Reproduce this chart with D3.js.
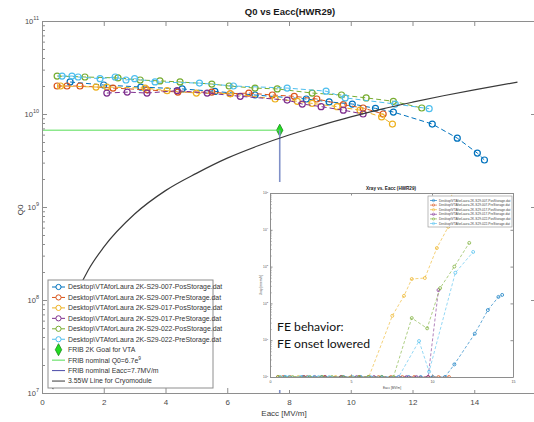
<!DOCTYPE html>
<html>
<head>
<meta charset="utf-8">
<script src="https://cdn.jsdelivr.net/npm/d3@7"></script>
<style>
  html, body { margin: 0; padding: 0; background: #fff; }
  svg { display: block; font-family: "Liberation Sans", Arial, sans-serif; }
</style>
</head>
<body>
<div id="graph"></div>
<script>
// ---- data ----
const seriesNames = [
  'Desktop\\VTAforLaura 2K-S29-007-PosStorage.dat',
  'Desktop\\VTAforLaura 2K-S29-007-PreStorage.dat',
  'Desktop\\VTAforLaura 2K-S29-017-PosStorage.dat',
  'Desktop\\VTAforLaura 2K-S29-017-PreStorage.dat',
  'Desktop\\VTAforLaura 2K-S29-022-PosStorage.dat',
  'Desktop\\VTAforLaura 2K-S29-022-PreStorage.dat'
];

// Eacc [MV/m], Q0, Xray [mrem/h] per run
const e007pos = [0.91, 2.0, 3.2, 4.54, 5.6, 6.9, 8.56, 9.3, 10.05, 10.8, 11.38, 12.64, 13.45, 14.1, 14.33];
const q007pos = [2.21e10, 2.05e10, 1.95e10, 1.86e10, 1.75e10, 1.6e10, 1.45e10, 1.35e10, 1.28e10, 1.15e10, 1.05e10, 7.8e9, 5.5e9, 3.8e9, 3.2e9];
const x007pos = [1, 1, 1, 1, 1, 1, 1, 1, 1, 1, 2.2, 15, 66, 150, 170];

const e007pre = [0.49, 0.81, 1.23, 2.3, 3.4, 4.4, 5.5, 6.1, 6.7, 7.46, 8.17, 8.9, 9.76, 10.4, 11.05];
const q007pre = [2.0e10, 2.0e10, 2.0e10, 1.9e10, 1.82e10, 1.72e10, 1.72e10, 1.65e10, 1.68e10, 1.6e10, 1.55e10, 1.45e10, 1.26e10, 1.16e10, 1.0e10];
const x007pre = [1, 1, 1, 1, 1, 1, 1, 1, 1, 1, 1, 1, 1, 1, 1];

const e017pos = [0.6, 1.75, 2.1, 3.34, 4.05, 5.0, 6.1, 7.55, 8.27, 8.75, 9.56, 10.3, 11.0, 11.35];
const q017pos = [2.0e10, 1.95e10, 1.95e10, 1.9e10, 1.78e10, 1.68e10, 1.65e10, 1.45e10, 1.37e10, 1.3e10, 1.2e10, 1.1e10, 9.3e9, 7.8e9];
const x017pos = [1, 1, 1, 1, 1, 1, 1, 46, 160, 460, 490, 3200, 1.2e4, 3e5];

const e017pre = [2.1, 2.76, 3.4, 4.38, 5.35, 6.42, 7.94, 8.43, 9.04, 9.76, 10.4];
const q017pre = [1.68e10, 1.72e10, 1.68e10, 1.78e10, 1.68e10, 1.55e10, 1.41e10, 1.28e10, 1.2e10, 1.1e10, 1.0e10];
const x017pre = [1, 1, 1, 1, 1, 1, 1, 1, 1, 1, 230];

const e022pos = [0.49, 1.39, 2.46, 3.18, 3.82, 4.47, 5.5, 6.06, 6.9, 7.62, 8.75, 9.7, 10.5, 11.38, 12.3];
const q022pos = [2.56e10, 2.5e10, 2.44e10, 2.32e10, 2.27e10, 2.21e10, 2.1e10, 2.0e10, 1.9e10, 1.86e10, 1.68e10, 1.6e10, 1.49e10, 1.37e10, 1.16e10];
const x022pos = [1, 1, 1, 1, 1, 1, 1, 1, 1, 1, 40, 21, 260, 1000, 4400];

const e022pre = [0.65, 0.97, 1.17, 1.88, 2.37, 2.72, 3.0, 3.66, 5.1, 6.2, 7.94, 9.2, 9.82, 11.44, 12.54];
const q022pre = [2.56e10, 2.56e10, 2.5e10, 2.4e10, 2.5e10, 2.32e10, 2.4e10, 2.21e10, 2.15e10, 2.0e10, 1.9e10, 1.76e10, 1.49e10, 1.28e10, 1.14e10];
const x022pre = [1, 1, 1, 1, 1, 1, 1, 1, 1, 1, 1, 9.5, 1.4, 680, 2500];

// 3.55W cryomodule line
const cryoE  = [0.35, 0.6, 1.0, 1.5, 2, 3, 4, 5, 6, 7, 8, 9, 10, 11, 12, 13, 14, 15.4];
const cryoQ0 = [1.1e7, 3.3e7, 9.3e7, 2.1e8, 3.7e8, 8.4e8, 1.5e9, 2.3e9, 3.35e9, 4.55e9, 5.95e9, 7.5e9, 9.3e9, 1.13e10, 1.34e10, 1.57e10, 1.82e10, 2.2e10];

const goalE = 7.7, goalQ0 = 6.7e9;

const eTicks = [0, 2, 4, 6, 8, 10, 12, 14, 16];
const qTicks = [1e7, 1e8, 1e9, 1e10, 1e11];
const xrayETicks = [0, 5, 10, 15];
const xrayTicks = [1, 10, 100, 1e3, 1e4, 1e5];

const extraLabels = ['FRIB 2K Goal for VTA', 'FRIB nominal Q0=6.7e', 'FRIB nominal Eacc=7.7MV/m', '3.55W Line for Cryomodule'];

// ---- drawing ----
const palette = ['#0072BD', '#D95319', '#EDB120', '#7E2F8E', '#77AC30', '#4DBEEE'];
const axisGrey = '#8e8e8e';

const runs = [
  { e: e007pos, q: q007pos, xr: x007pos },
  { e: e007pre, q: q007pre, xr: x007pre },
  { e: e017pos, q: q017pos, xr: x017pos },
  { e: e017pre, q: q017pre, xr: x017pre },
  { e: e022pos, q: q022pos, xr: x022pos },
  { e: e022pre, q: q022pre, xr: x022pre }
].map((r, i) => ({ ...r, name: seriesNames[i], color: palette[i] }));

const svg = d3.select('#graph')
  .append('svg')
    .attr('width', 534)
    .attr('height', 422);

const x = d3.scaleLinear().domain([0, 16]).range([42, 536]);
const y = d3.scaleLog().domain([1e7, 1e11]).range([393, 21]);

const isMinor = v => Math.abs(Math.log10(v) - Math.round(Math.log10(v))) > 1e-6;

function styleAxis(g, size) {
  g.select('.domain').attr('stroke', axisGrey);
  g.selectAll('.tick line').attr('stroke', axisGrey);
  g.selectAll('.tick text').attr('fill', '#4a4a4a').attr('font-size', size);
}

const defs = svg.append('defs');
defs.append('clipPath').attr('id', 'clipMain')
  .append('rect').attr('x', 42).attr('y', 21).attr('width', 494).attr('height', 372);

// plot content
const plot = svg.append('g').attr('clip-path', 'url(#clipMain)');

const line = d3.line().x(d => x(d[0])).y(d => y(d[1]));

runs.forEach(r => {
  const pts = r.e.map((e, i) => [e, r.q[i]]);
  plot.append('path')
    .attr('d', line(pts))
    .attr('fill', 'none')
    .attr('stroke', r.color)
    .attr('stroke-width', 1)
    .attr('stroke-dasharray', '5,3');
  plot.selectAll(null)
    .data(pts)
    .enter()
      .append('circle')
      .attr('cx', d => x(d[0]))
      .attr('cy', d => y(d[1]))
      .attr('r', 3)
      .attr('fill', 'none')
      .attr('stroke', r.color)
      .attr('stroke-width', 1.2);
});

// FRIB goal
const diamond = 'M0,-6L3.2,0L0,6L-3.2,0Z';
plot.append('path')
  .attr('d', diamond)
  .attr('transform', `translate(${x(goalE)},${y(goalQ0)})`)
  .attr('fill', '#22dd22')
  .attr('stroke', '#1a8a1a')
  .attr('stroke-width', 0.8);

plot.append('line')
  .attr('x1', x(0)).attr('x2', x(goalE))
  .attr('y1', y(goalQ0)).attr('y2', y(goalQ0))
  .attr('stroke', '#55dd55')
  .attr('stroke-width', 1);

plot.append('line')
  .attr('x1', x(goalE)).attr('x2', x(goalE))
  .attr('y1', y(goalQ0)).attr('y2', y(1e7))
  .attr('stroke', '#8090c8')
  .attr('stroke-width', 1.6);

plot.append('path')
  .attr('d', d3.line().curve(d3.curveMonotoneX).x(d => x(d)).y((d, i) => y(cryoQ0[i]))(cryoE))
  .attr('fill', 'none')
  .attr('stroke', '#3a3a3a')
  .attr('stroke-width', 1.2);

// axes (the 16 label falls past the right edge of the picture)
svg.append('g')
  .attr('transform', 'translate(0,393)')
  .call(d3.axisBottom(x).tickValues(eTicks).tickSize(-5).tickSizeOuter(0).tickPadding(6)
    .tickFormat(d => d < 16 ? d : ''))
  .call(g => styleAxis(g, 8));
svg.append('g')
  .attr('transform', 'translate(0,21)')
  .call(d3.axisTop(x).tickValues(eTicks).tickSize(-5).tickSizeOuter(0).tickFormat(''))
  .call(g => styleAxis(g, 8));
svg.append('g')
  .attr('transform', 'translate(42,0)')
  .call(d3.axisLeft(y).tickValues(qTicks).tickSize(-5).tickSizeOuter(0).tickFormat(''))
  .call(g => styleAxis(g, 8));
svg.append('g')
  .attr('transform', 'translate(42,0)')
  .call(d3.axisLeft(y).tickValues(y.ticks().filter(isMinor)).tickSize(-3).tickSizeOuter(0).tickFormat(''))
  .call(g => { styleAxis(g, 8); g.select('.domain').remove(); });
svg.append('g')
  .attr('transform', 'translate(536,0)')
  .call(d3.axisRight(y).tickValues(qTicks).tickSize(-5).tickSizeOuter(0).tickFormat(''))
  .call(g => styleAxis(g, 8));

const qLab = svg.selectAll('.qlab')
  .data(qTicks)
  .enter()
    .append('text')
    .attr('class', 'qlab')
    .attr('x', 39)
    .attr('y', d => y(d) + 3)
    .attr('text-anchor', 'end')
    .attr('fill', '#4a4a4a')
    .attr('font-size', 7.5);
qLab.append('tspan').text('10');
qLab.append('tspan').attr('dy', -4).attr('font-size', 5.5).text(d => Math.round(Math.log10(d)));

svg.append('text')
  .attr('x', 284).attr('y', 416)
  .attr('text-anchor', 'middle')
  .attr('font-size', 8)
  .attr('fill', '#3a3a3a')
  .text('Eacc [MV/m]');

svg.append('text')
  .attr('transform', 'translate(23,210) rotate(-90)')
  .attr('text-anchor', 'middle')
  .attr('font-size', 8)
  .attr('fill', '#3a3a3a')
  .text('Q0');

svg.append('text')
  .attr('x', 290).attr('y', 15)
  .attr('text-anchor', 'middle')
  .attr('font-size', 9.5)
  .attr('font-weight', 'bold')
  .attr('fill', '#1a1a1a')
  .text('Q0 vs Eacc(HWR29)');

// legend
const leg = svg.append('g');
leg.append('rect')
  .attr('x', 48).attr('y', 280).attr('width', 165).attr('height', 108)
  .attr('fill', '#fff').attr('stroke', axisGrey).attr('stroke-width', 1);

const rowY = i => 287 + i * 10.45;
runs.forEach((r, i) => {
  leg.append('line')
    .attr('x1', 52).attr('x2', 65).attr('y1', rowY(i)).attr('y2', rowY(i))
    .attr('stroke', r.color).attr('stroke-width', 1);
  leg.append('circle')
    .attr('cx', 58.5).attr('cy', rowY(i)).attr('r', 2.6)
    .attr('fill', '#fff').attr('stroke', r.color).attr('stroke-width', 1);
  leg.append('text')
    .attr('x', 68).attr('y', rowY(i) + 2.4)
    .attr('font-size', 6.9).attr('fill', '#333')
    .text(r.name);
});

leg.append('path')
  .attr('d', diamond)
  .attr('transform', `translate(58.5,${rowY(6)})`)
  .attr('fill', '#22dd22').attr('stroke', '#1a8a1a').attr('stroke-width', 0.8);
const legLines = ['#55dd55', '#4a4aa8', '#3a3a3a'];
legLines.forEach((c, k) => {
  leg.append('line')
    .attr('x1', 52).attr('x2', 65).attr('y1', rowY(7 + k)).attr('y2', rowY(7 + k))
    .attr('stroke', c).attr('stroke-width', 1);
});
extraLabels.forEach((t, k) => {
  const txt = leg.append('text')
    .attr('x', 68).attr('y', rowY(6 + k) + 2.4)
    .attr('font-size', 6.9).attr('fill', '#333');
  txt.append('tspan').text(t);
  if (k === 1) txt.append('tspan').attr('dy', -3).attr('font-size', 4.8).text('9');
});

// ---- inset: Xray vs Eacc ----
const inset = svg.append('g');
inset.append('rect')
  .attr('x', 257).attr('y', 182).attr('width', 265).attr('height', 208)
  .attr('fill', '#fff');

const ix = d3.scaleLinear().domain([0, 15]).range([270, 513]);
const iy = d3.scaleLog().domain([1, 1e5]).range([377, 193]);

defs.append('clipPath').attr('id', 'clipInset')
  .append('rect').attr('x', 270).attr('y', 193).attr('width', 243).attr('height', 184);

const iplot = inset.append('g').attr('clip-path', 'url(#clipInset)');
const iline = d3.line().x(d => ix(d[0])).y(d => iy(d[1]));

runs.forEach(r => {
  const pts = r.e.map((e, i) => [e, r.xr[i]]);
  iplot.append('path')
    .attr('d', iline(pts))
    .attr('fill', 'none')
    .attr('stroke', r.color)
    .attr('stroke-width', 0.6)
    .attr('stroke-dasharray', '3,2');
  iplot.selectAll(null)
    .data(pts)
    .enter()
      .append('circle')
      .attr('cx', d => ix(d[0]))
      .attr('cy', d => iy(d[1]))
      .attr('r', 1.5)
      .attr('fill', 'none')
      .attr('stroke', r.color)
      .attr('stroke-width', 0.7);
});

inset.append('g')
  .attr('transform', 'translate(0,377)')
  .call(d3.axisBottom(ix).tickValues(xrayETicks).tickSize(-2.5).tickSizeOuter(0).tickPadding(3))
  .call(g => styleAxis(g, 3.6));
inset.append('g')
  .attr('transform', 'translate(0,193)')
  .call(d3.axisTop(ix).tickValues(xrayETicks).tickSize(-2.5).tickSizeOuter(0).tickFormat(''))
  .call(g => styleAxis(g, 3.6));
inset.append('g')
  .attr('transform', 'translate(270,0)')
  .call(d3.axisLeft(iy).tickValues(xrayTicks).tickSize(-2.5).tickSizeOuter(0).tickFormat(''))
  .call(g => styleAxis(g, 3.6));
inset.append('g')
  .attr('transform', 'translate(270,0)')
  .call(d3.axisLeft(iy).tickValues(iy.ticks().filter(isMinor)).tickSize(-1.5).tickSizeOuter(0).tickFormat(''))
  .call(g => { styleAxis(g, 3.6); g.select('.domain').remove(); });
inset.append('g')
  .attr('transform', 'translate(513,0)')
  .call(d3.axisRight(iy).tickValues(xrayTicks).tickSize(-2.5).tickSizeOuter(0).tickFormat(''))
  .call(g => styleAxis(g, 3.6));

const xLab = inset.selectAll('.xlab')
  .data(xrayTicks)
  .enter()
    .append('text')
    .attr('x', 268)
    .attr('y', d => iy(d) + 1.2)
    .attr('text-anchor', 'end')
    .attr('fill', '#4a4a4a')
    .attr('font-size', 3.2);
xLab.append('tspan').text('10');
xLab.append('tspan').attr('dy', -1.6).attr('font-size', 2.4).text(d => Math.round(Math.log10(d)));

inset.append('text')
  .attr('x', 391).attr('y', 190)
  .attr('text-anchor', 'middle')
  .attr('font-size', 4.6).attr('font-weight', 'bold').attr('fill', '#222')
  .text('Xray vs. Eacc (HWR29)');
inset.append('text')
  .attr('x', 392).attr('y', 389)
  .attr('text-anchor', 'middle')
  .attr('font-size', 3.2).attr('fill', '#444')
  .text('Eacc [MV/m]');
inset.append('text')
  .attr('transform', 'translate(262,285) rotate(-90)')
  .attr('text-anchor', 'middle')
  .attr('font-size', 3.2).attr('fill', '#444')
  .text('Xray [mrem/h]');

// inset legend
inset.append('rect')
  .attr('x', 428).attr('y', 196).attr('width', 84).attr('height', 31)
  .attr('fill', '#fff').attr('stroke', axisGrey).attr('stroke-width', 0.6);
runs.forEach((r, i) => {
  const yy = 200.5 + i * 4.6;
  inset.append('line')
    .attr('x1', 430).attr('x2', 437).attr('y1', yy).attr('y2', yy)
    .attr('stroke', r.color).attr('stroke-width', 0.6);
  inset.append('circle')
    .attr('cx', 433.5).attr('cy', yy).attr('r', 1.2)
    .attr('fill', 'none').attr('stroke', r.color).attr('stroke-width', 0.5);
  inset.append('text')
    .attr('x', 439).attr('y', yy + 1.1)
    .attr('font-size', 3.2).attr('fill', '#444')
    .text(r.name);
});

// annotation
const note = svg.append('text')
  .attr('font-family', 'Lato, "Open Sans", sans-serif')
  .attr('font-size', 12.2)
  .attr('fill', '#111');
note.append('tspan').attr('x', 277).attr('y', 331).text('FE behavior:');
note.append('tspan').attr('x', 277).attr('y', 348).text('FE onset lowered');
</script>
</body>
</html>
